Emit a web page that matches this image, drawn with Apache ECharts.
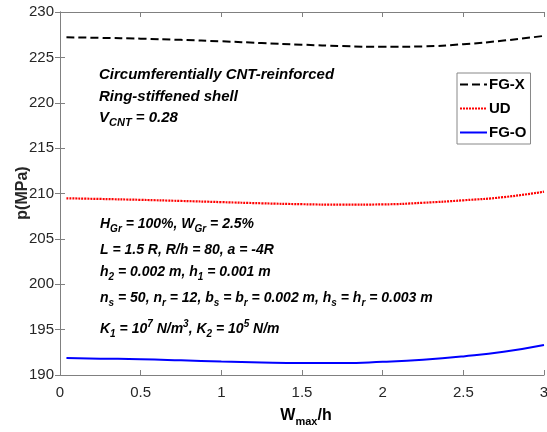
<!DOCTYPE html>
<html>
<head>
<meta charset="utf-8">
<script src="https://cdn.jsdelivr.net/npm/echarts@6/dist/echarts.min.js"></script>
<style>
  html, body { margin: 0; padding: 0; background: #fff; }
  #chart { width: 547px; height: 432px; }
</style>
</head>
<body>
<div id="chart"></div>
<script>
// W_max/h values
var xValues = [0.04, 0.25, 0.5, 0.75, 1, 1.25, 1.5, 1.75, 2, 2.25, 2.5, 2.75, 3];
// p (MPa) per case
var fgX = [227.21, 227.15, 227.06, 226.93, 226.77, 226.58, 226.40, 226.25, 226.16, 226.21, 226.45, 226.85, 227.37];
var ud  = [209.47, 209.40, 209.30, 209.18, 209.05, 208.92, 208.82, 208.77, 208.80, 208.98, 209.25, 209.60, 210.20];
var fgO = [191.86, 191.80, 191.74, 191.62, 191.48, 191.38, 191.32, 191.31, 191.45, 191.68, 192.05, 192.55, 193.30];
var seriesNames = ['FG-X', 'UD', 'FG-O'];

var axisColor = '#808080';
var labelColor = '#262626';
var font = 'Liberation Sans, Arial, sans-serif';

function pairs(ys) {
  return xValues.map(function (x, i) { return [x, ys[i]]; });
}

// rich styles for annotation lines (bold italic with sub/superscripts)
function makeRich(size) {
  var base = { fontWeight: 'bold', fontStyle: 'italic', fontFamily: font, color: '#000' };
  return {
    t: Object.assign({ fontSize: size, lineHeight: 20 }, base),
    s: Object.assign({ fontSize: size - 4, lineHeight: 8, verticalAlign: 'bottom' }, base),
    p: Object.assign({ fontSize: size - 4, lineHeight: 8, verticalAlign: 'top' }, base)
  };
}

function note(x, y, text, size) {
  return {
    type: 'text',
    x: x,
    y: y,
    style: {
      text: text,
      rich: makeRich(size),
      fontSize: size, fontWeight: 'bold', fontStyle: 'italic', fontFamily: font,
      lineHeight: 20,
      fill: '#000',
      verticalAlign: 'middle'
    }
  };
}

var chart = echarts.init(document.getElementById('chart'));
chart.setOption({
  animation: false,
  grid: { left: 60, right: 3, top: 12, bottom: 57, outerBoundsMode: 'none' },
  legend: {
    orient: 'vertical',
    left: 457,
    top: 73,
    data: seriesNames,
    backgroundColor: '#fff',
    borderColor: '#888',
    borderWidth: 1,
    padding: [4, 4, 4, 2],
    itemWidth: 27,
    itemHeight: 14,
    itemGap: 9,
    itemStyle: { opacity: 0 },
    textStyle: { fontSize: 15, fontWeight: 'bold', fontFamily: font, color: '#000', padding: [0, 0, 0, -3] }
  },
  xAxis: [{
    type: 'value',
    min: 0, max: 3, interval: 0.5,
    axisLine: { lineStyle: { color: axisColor } },
    axisTick: { inside: true, length: 5, lineStyle: { color: axisColor } },
    axisLabel: { fontSize: 15, color: labelColor, fontFamily: font, margin: 10 },
    splitLine: { show: false }
  }, {
    type: 'value',
    position: 'top',
    min: 0, max: 3, interval: 0.5,
    axisLine: { lineStyle: { color: axisColor } },
    axisTick: { inside: true, length: 5, lineStyle: { color: axisColor } },
    axisLabel: { show: false },
    splitLine: { show: false }
  }],
  yAxis: [{
    type: 'value',
    min: 190, max: 230, interval: 5,
    axisLine: { show: true, lineStyle: { color: axisColor } },
    axisTick: { show: true, inside: true, length: 5, lineStyle: { color: axisColor } },
    axisLabel: { fontSize: 15, color: labelColor, fontFamily: font, margin: 6 },
    splitLine: { show: false }
  }, {
    type: 'value',
    position: 'right',
    min: 190, max: 230, interval: 5,
    axisLine: { show: true, lineStyle: { color: axisColor } },
    axisTick: { show: true, inside: true, length: 5, lineStyle: { color: axisColor } },
    axisLabel: { show: false },
    splitLine: { show: false }
  }],
  series: [{
    name: 'FG-X',
    type: 'line',
    smooth: true,
    symbol: 'none',
    data: pairs(fgX),
    lineStyle: { color: '#000', width: 2, type: [8, 4] },
    itemStyle: { color: '#000' }
  }, {
    name: 'UD',
    type: 'line',
    smooth: true,
    symbol: 'none',
    data: pairs(ud),
    lineStyle: { color: '#ff0000', width: 2.2, type: [2, 1] },
    itemStyle: { color: '#ff0000' }
  }, {
    name: 'FG-O',
    type: 'line',
    smooth: true,
    symbol: 'none',
    data: pairs(fgO),
    lineStyle: { color: '#0000ff', width: 2 },
    itemStyle: { color: '#0000ff' }
  }],
  graphic: [
    note(99, 75, '{t|Circumferentially CNT-reinforced}', 15),
    note(99, 97, '{t|Ring-stiffened shell}', 15),
    note(99, 118, '{t|V}{s|CNT}{t| = 0.28}', 15),
    note(100, 224, '{t|H}{s|Gr}{t| = 100%, W}{s|Gr}{t| = 2.5%}', 14),
    note(100, 250, '{t|L = 1.5 R, R/h = 80, a = -4R}', 14),
    note(100, 272, '{t|h}{s|2}{t| = 0.002 m, h}{s|1}{t| = 0.001 m}', 14),
    note(100, 298, '{t|n}{s|s}{t| = 50, n}{s|r}{t| = 12, b}{s|s}{t| = b}{s|r}{t| = 0.002 m, h}{s|s}{t| = h}{s|r}{t| = 0.003 m}', 14),
    note(100, 329, '{t|K}{s|1}{t| = 10}{p|7}{t| N/m}{p|3}{t|, K}{s|2}{t| = 10}{p|5}{t| N/m}', 14),
    {
      type: 'text',
      x: 23,
      y: 193,
      rotation: Math.PI / 2,
      style: {
        text: 'p(MPa)',
        align: 'center',
        verticalAlign: 'middle',
        fontSize: 16, fontWeight: 'bold', fontFamily: font,
        fill: labelColor
      }
    },
    {
      type: 'text',
      x: 306,
      y: 416,
      style: {
        text: '{w|W}{m|max}{w|/h}',
        align: 'center',
        verticalAlign: 'middle',
        rich: {
          w: { fontSize: 16, fontWeight: 'bold', fontFamily: font, color: labelColor, lineHeight: 22 },
          m: { fontSize: 11, fontWeight: 'bold', fontFamily: font, color: labelColor, lineHeight: 9, verticalAlign: 'bottom' }
        }
      }
    }
  ]
});
</script>
</body>
</html>
